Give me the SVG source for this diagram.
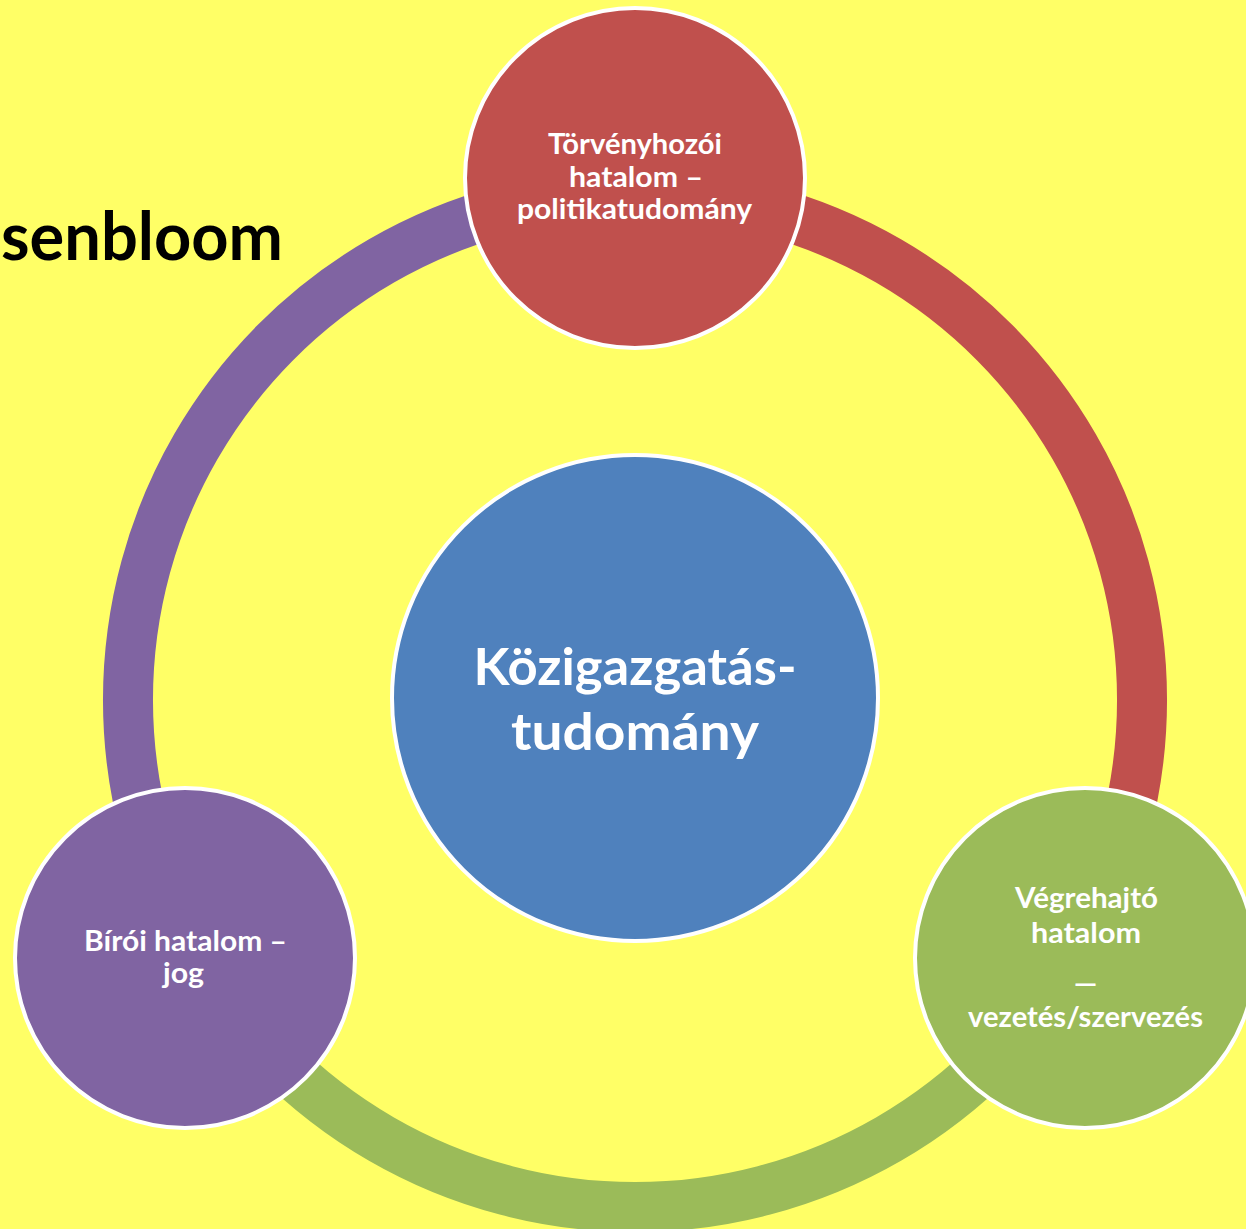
<svg xmlns="http://www.w3.org/2000/svg" width="1246" height="1229" viewBox="0 0 1246 1229">
<style>
.bg{fill:#FFFF66}
.ring{fill:none;stroke-width:50;stroke-linecap:butt}
.node{stroke:#FFFFFF;stroke-width:4}
.lbl{font-family:Lato,"Open Sans","Liberation Sans",sans-serif;font-weight:bold;fill:#FFFFFF;text-anchor:middle}
.small{font-size:29px}
.big{font-size:51px}
.title{font-family:Lato,"Open Sans","Liberation Sans",sans-serif;font-weight:bold;font-size:66px;fill:#000000}
</style>
<rect class="bg" x="0" y="0" width="1246" height="1229"/>
<text class="title" x="1" y="260" textLength="282" lengthAdjust="spacingAndGlyphs">senbloom</text>
<g id="connectors">
  <path class="ring" stroke="#8064A2" d="M 195.9 953.5 A 507 507 0 0 1 635 193"/>
  <path class="ring" stroke="#C0504D" d="M 635 193 A 507 507 0 0 1 1074.1 953.5"/>
  <path class="ring" stroke="#9BBB59" d="M 1074.1 953.5 A 507 507 0 0 1 195.9 953.5"/>
</g>
<g id="center">
  <circle class="node" cx="635" cy="698" r="243" fill="#4F81BD"/>
  <text class="lbl big" x="635" y="685" textLength="323" lengthAdjust="spacingAndGlyphs">Közigazgatás-</text>
  <text class="lbl big" x="635" y="750" textLength="248" lengthAdjust="spacingAndGlyphs">tudomány</text>
</g>
<g id="top">
  <circle class="node" cx="635" cy="178" r="170" fill="#C0504D"/>
  <text class="lbl small" x="635" y="154" textLength="174" lengthAdjust="spacingAndGlyphs">Törvényhozói</text>
  <text class="lbl small" x="636" y="187" textLength="134" lengthAdjust="spacingAndGlyphs">hatalom –</text>
  <text class="lbl small" x="634.5" y="219" textLength="235" lengthAdjust="spacingAndGlyphs">politikatudomány</text>
</g>
<g id="left">
  <circle class="node" cx="185" cy="958" r="170" fill="#8064A2"/>
  <text class="lbl small" x="185.5" y="951" textLength="203" lengthAdjust="spacingAndGlyphs">Bírói hatalom –</text>
  <text class="lbl small" x="183.5" y="983" textLength="41" lengthAdjust="spacingAndGlyphs">jog</text>
</g>
<g id="right">
  <circle class="node" cx="1085" cy="958" r="170" fill="#9BBB59"/>
  <text class="lbl small" x="1086.5" y="908" textLength="143" lengthAdjust="spacingAndGlyphs">Végrehajtó</text>
  <text class="lbl small" x="1086" y="943" textLength="110" lengthAdjust="spacingAndGlyphs">hatalom</text>
  <text class="lbl small" x="0" y="0" transform="translate(1085.5,993) scale(1.7,1)">–</text>
  <text class="lbl small" x="1085.5" y="1027" textLength="235" lengthAdjust="spacingAndGlyphs">vezetés/szervezés</text>
</g>
</svg>
